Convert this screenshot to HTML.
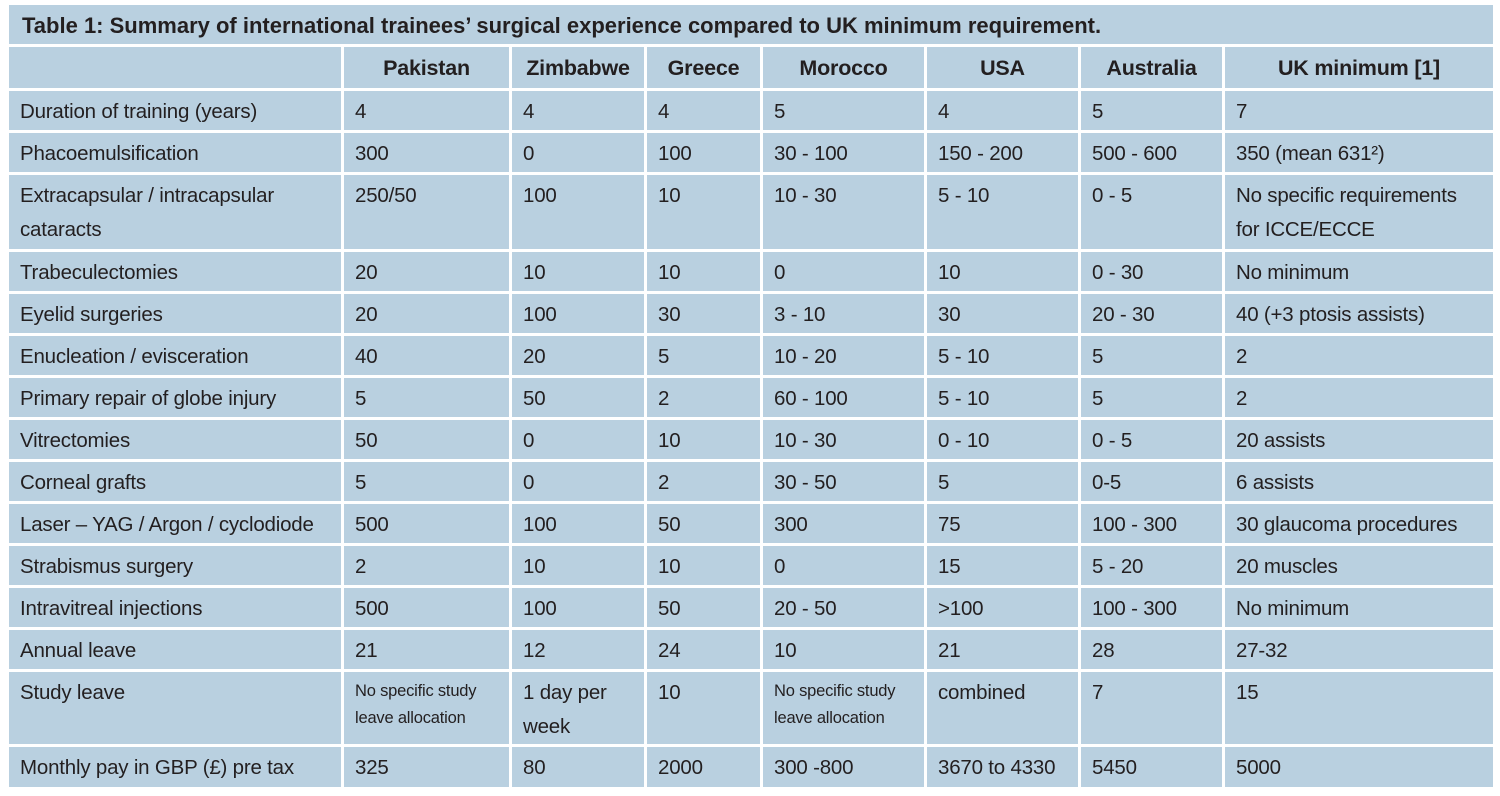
<!DOCTYPE html>
<html><head><meta charset="utf-8"><style>
html,body{margin:0;padding:0;background:#fff;width:1500px;height:796px;overflow:hidden}
body{font-family:"Liberation Sans",sans-serif;color:#231f20}
.title{position:absolute;left:9px;top:5px;width:1484px;height:39px;background:#b9d0e0;font-weight:bold;font-size:22px;line-height:42px;box-sizing:border-box;padding-left:13px;letter-spacing:0px}
.g{position:absolute;left:9px;top:47px;display:grid;grid-template-columns:332px 165px 132px 113px 161px 151px 141px 268px;grid-template-rows:41px 39px 39px 74px repeat(10,39px) 72px 40px;gap:3px}
.g div{background:#b9d0e0;font-size:20.5px;padding:0 0 0 11px;line-height:41px;white-space:nowrap;letter-spacing:-0.2px}
.g .h{font-weight:bold;text-align:center;padding:0;line-height:43px;font-size:21.5px}
.g .t{line-height:34px;padding-top:4px}
.g .s{font-size:16.5px;line-height:27px;padding-top:6px}
</style></head><body>
<div class="title">Table 1: Summary of international trainees’ surgical experience compared to UK minimum requirement.</div>
<div class="g">
<div class="h"></div><div class="h">Pakistan</div><div class="h">Zimbabwe</div><div class="h">Greece</div><div class="h">Morocco</div><div class="h">USA</div><div class="h">Australia</div><div class="h">UK minimum [1]</div>
<div>Duration of training (years)</div><div>4</div><div>4</div><div>4</div><div>5</div><div>4</div><div>5</div><div>7</div>
<div>Phacoemulsification</div><div>300</div><div>0</div><div>100</div><div>30 - 100</div><div>150 - 200</div><div>500 - 600</div><div>350 (mean 631²)</div>
<div class="t">Extracapsular / intracapsular<br>cataracts</div><div class="t">250/50</div><div class="t">100</div><div class="t">10</div><div class="t">10 - 30</div><div class="t">5 - 10</div><div class="t">0 - 5</div><div class="t">No specific requirements<br>for ICCE/ECCE</div>
<div>Trabeculectomies</div><div>20</div><div>10</div><div>10</div><div>0</div><div>10</div><div>0 - 30</div><div>No minimum</div>
<div>Eyelid surgeries</div><div>20</div><div>100</div><div>30</div><div>3 - 10</div><div>30</div><div>20 - 30</div><div>40 (+3 ptosis assists)</div>
<div>Enucleation / evisceration</div><div>40</div><div>20</div><div>5</div><div>10 - 20</div><div>5 - 10</div><div>5</div><div>2</div>
<div>Primary repair of globe injury</div><div>5</div><div>50</div><div>2</div><div>60 - 100</div><div>5 - 10</div><div>5</div><div>2</div>
<div>Vitrectomies</div><div>50</div><div>0</div><div>10</div><div>10 - 30</div><div>0 - 10</div><div>0 - 5</div><div>20 assists</div>
<div>Corneal grafts</div><div>5</div><div>0</div><div>2</div><div>30 - 50</div><div>5</div><div>0-5</div><div>6 assists</div>
<div>Laser – YAG / Argon / cyclodiode</div><div>500</div><div>100</div><div>50</div><div>300</div><div>75</div><div>100 - 300</div><div>30 glaucoma procedures</div>
<div>Strabismus surgery</div><div>2</div><div>10</div><div>10</div><div>0</div><div>15</div><div>5 - 20</div><div>20 muscles</div>
<div>Intravitreal injections</div><div>500</div><div>100</div><div>50</div><div>20 - 50</div><div>&gt;100</div><div>100 - 300</div><div>No minimum</div>
<div>Annual leave</div><div>21</div><div>12</div><div>24</div><div>10</div><div>21</div><div>28</div><div>27-32</div>
<div class="t">Study leave</div><div class="s">No specific study<br>leave allocation</div><div class="t">1 day per<br>week</div><div class="t">10</div><div class="s">No specific study<br>leave allocation</div><div class="t">combined</div><div class="t">7</div><div class="t">15</div>
<div>Monthly pay in GBP (£) pre tax</div><div>325</div><div>80</div><div>2000</div><div>300 -800</div><div>3670 to 4330</div><div>5450</div><div>5000</div>
</div>
</body></html>
